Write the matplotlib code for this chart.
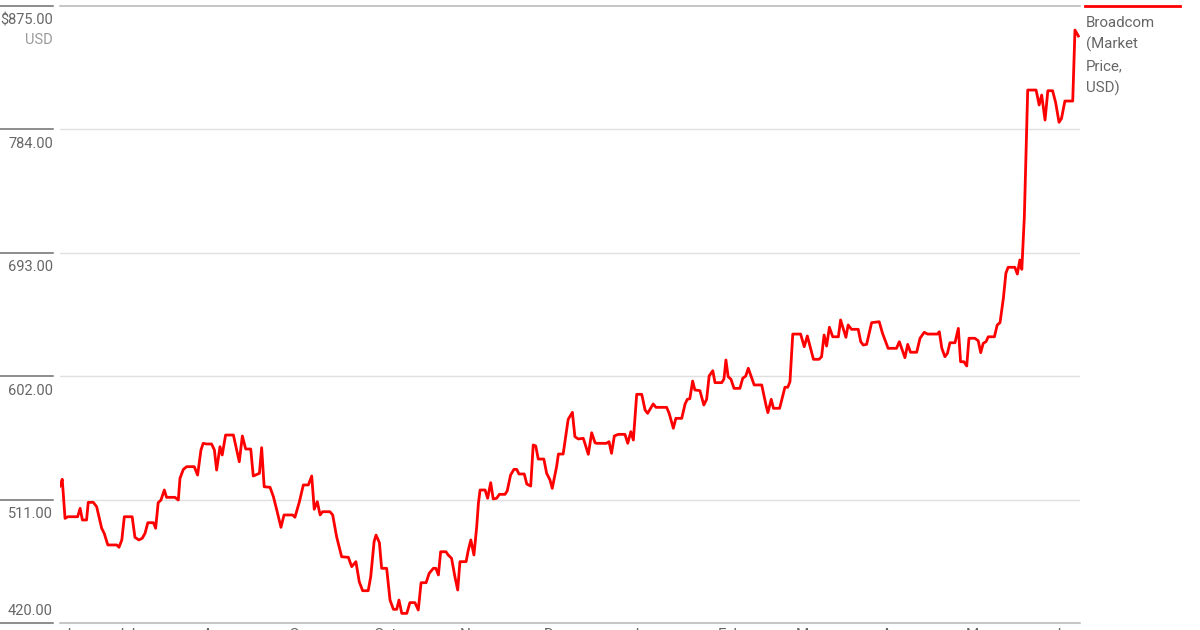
import numpy as np
import pandas as pd
import matplotlib
matplotlib.use("Agg")
import matplotlib.pyplot as plt
import matplotlib.transforms as mtransforms
from matplotlib.lines import Line2D

# Broadcom market price (USD)
# day = days since 2022-06-11
start = pd.Timestamp("2022-06-11")
days = [0.0, 0.8, 1.8, 2.8, 6.3, 7.2, 8.0, 9.5, 10.1, 11.9, 13.1, 14.9, 15.8, 17.1, 20.3, 21.1,
        22.1, 23.0, 25.8, 26.8, 28.2, 29.4, 30.4, 31.4, 33.4, 34.2, 35.1, 36.1, 37.3, 38.1, 41.1,
        42.3, 42.9, 44.1, 45.3, 48.0, 49.2, 50.4, 51.2, 52.4, 54.2, 55.2, 56.0, 57.2, 58.0, 59.2,
        62.0, 64.1, 65.2, 66.4, 68.2, 69.1, 71.3, 72.1, 73.0, 75.1, 76.3, 77.5, 79.0, 80.1, 83.2,
        84.0, 85.6, 87.0, 88.8, 90.0, 90.9, 92.0, 93.0, 93.9, 96.5, 97.5, 98.9, 100.7, 103.1, 104.3,
        105.8, 107.0, 108.2, 110.2, 111.1, 112.3, 113.0, 114.2, 115.0, 116.8, 118.0, 119.2, 120.4,
        121.2, 122.2, 124.0, 125.1, 126.9, 128.1, 129.1, 130.9, 132.0, 133.5, 134.4, 135.3, 136.1,
        138.0, 138.8, 140.0, 141.2, 142.2, 143.0, 145.2, 146.0, 146.9, 148.0, 149.0, 149.6, 150.2,
        152.0, 152.9, 154.0, 154.9, 156.1, 157.1, 159.1, 159.9, 161.1, 162.3, 163.3, 164.1, 166.0,
        166.9, 168.3, 169.2, 170.1, 171.0, 173.0, 174.0, 175.2, 176.0, 177.6, 178.2, 179.9, 181.7,
        183.2, 184.1, 185.3, 187.1, 188.9, 190.1, 191.3, 191.9, 195.4, 196.3, 197.2, 198.2, 199.6,
        202.0, 203.0, 204.1, 205.0, 206.2, 208.0, 209.2, 210.1, 212.1, 213.1, 216.9, 217.8, 219.3,
        220.2, 222.3, 223.5, 224.3, 225.2, 226.2, 227.0, 228.8, 230.2, 231.2, 232.1, 233.4, 234.2,
        236.6, 237.4, 238.1, 238.9, 239.9, 241.0, 243.1, 244.1, 245.2, 246.1, 248.2, 250.9, 252.5,
        253.1, 254.3, 255.1, 257.3, 259.2, 260.2, 261.0, 262.0, 264.8, 266.1, 267.2, 269.4, 271.4,
        272.3, 273.2, 274.1, 275.1, 276.3, 278.3, 279.1, 281.0, 281.8, 283.0, 285.4, 286.3, 287.2,
        288.4, 290.2, 292.9, 294.1, 296.1, 299.1, 300.1, 302.1, 303.1, 304.1, 306.3, 307.5, 309.0,
        310.2, 313.7, 314.4, 315.3, 316.4, 317.3, 318.2, 320.0, 321.2, 322.0, 323.2, 324.2, 325.0,
        327.1, 328.3, 329.2, 330.1, 331.1, 331.9, 334.1, 335.1, 336.1, 337.3, 338.2, 339.0, 341.4,
        342.3, 343.2, 343.9, 344.8, 345.4, 346.0, 349.0, 350.1, 351.0, 352.2, 353.2, 354.9, 356.0,
        357.2, 358.1, 359.3, 362.1, 362.9, 364.1]
prices = [520.9, 525.9, 497.1, 498.3, 498.3, 504.5, 495.9, 495.9, 508.9, 508.9, 505.7, 489.8,
          486.1, 477.5, 477.5, 475.8, 481.2, 498.3, 498.3, 483.1, 481.2, 482.4, 486.1, 493.9,
          493.9, 489.8, 508.6, 510.6, 518.0, 512.6, 512.6, 510.6, 526.6, 533.2, 535.2, 535.2,
          529.0, 547.5, 552.4, 551.9, 551.9, 547.5, 532.7, 549.9, 543.8, 558.5, 558.5, 538.8,
          557.8, 548.2, 548.2, 528.3, 530.3, 549.2, 520.4, 520.0, 513.1, 503.3, 490.5, 499.6,
          499.6, 497.9, 509.4, 521.7, 521.7, 528.3, 503.8, 509.4, 499.6, 502.0, 502.0, 499.6,
          483.6, 468.8, 468.4, 461.5, 465.2, 450.4, 443.8, 443.8, 454.1, 479.9, 484.8, 479.2,
          460.3, 460.3, 436.9, 430.1, 430.1, 436.9, 427.1, 427.1, 435.0, 435.0, 429.6, 449.7,
          449.7, 456.6, 460.3, 460.3, 455.4, 472.5, 472.5, 470.1, 467.7, 454.1, 444.3, 465.2,
          465.2, 473.8, 481.2, 470.1, 491.0, 508.2, 518.0, 518.0, 511.9, 523.4, 511.4, 511.9,
          514.8, 514.8, 517.3, 529.0, 533.2, 533.2, 529.8, 529.8, 522.4, 520.9, 551.2, 550.4,
          540.8, 540.8, 530.3, 525.4, 519.2, 535.7, 544.5, 544.5, 570.1, 575.2, 557.3, 555.6,
          556.1, 544.3, 560.2, 552.8, 552.4, 552.4, 553.6, 545.0, 557.8, 559.0, 559.0, 552.4,
          561.0, 554.8, 588.5, 588.5, 576.9, 574.5, 581.4, 578.9, 578.9, 574.5, 563.5, 570.8,
          570.8, 581.4, 584.8, 585.3, 598.3, 591.7, 591.2, 580.6, 584.8, 602.0, 605.9, 597.1,
          597.1, 599.8, 613.8, 601.5, 599.6, 592.9, 592.9, 600.3, 602.0, 607.7, 595.4, 595.4,
          579.9, 575.0, 584.8, 578.2, 578.2, 593.7, 593.7, 597.8, 632.9, 632.9, 623.6, 631.5,
          614.3, 614.3, 616.2, 632.2, 624.1, 637.9, 630.9, 630.9, 643.3, 630.5, 639.6, 636.4,
          636.4, 627.3, 624.8, 625.3, 641.3, 642.0, 633.4, 622.4, 622.4, 627.3, 615.5, 625.3,
          619.5, 619.5, 629.8, 634.2, 632.9, 632.9, 634.6, 622.4, 616.2, 618.7, 626.5, 626.5,
          637.1, 612.5, 612.5, 609.4, 629.8, 629.8, 628.0, 619.2, 626.1, 627.3, 630.9, 630.9,
          639.6, 641.3, 659.2, 677.7, 682.1, 682.1, 677.1, 687.5, 680.6, 719.4, 766.1, 812.7,
          812.7, 801.7, 809.0, 790.6, 812.2, 812.2, 803.4, 788.9, 791.9, 804.6, 804.6, 856.9,
          852.5]

grid_vals = [420, 511, 602, 693, 784, 875]
grid_labels = ["420.00", "511.00", "602.00", "693.00", "784.00", "$875.00"]
month_dates = ["2022-06-12", "2022-07-01", "2022-08-01", "2022-09-01", "2022-10-01",
               "2022-11-01", "2022-12-01", "2023-01-01", "2023-02-01", "2023-03-01",
               "2023-04-01", "2023-05-01", "2023-06-01"]
month_labels = ["Jun", "Jul", "Aug", "Sep", "Oct", "Nov", "Dec", "Jan", "Feb", "Mar",
                "Apr", "May", "Jun"]

dates = start + pd.to_timedelta(days, unit="D")

plt.rcParams["font.family"] = ["Roboto", "DejaVu Sans"]

W, H = 1200, 630
fig = plt.figure(figsize=(12, 6.3), dpi=100)
ax = fig.add_axes([60 / W, 1 - 623 / H, 1020 / W, (623 - 5.5) / H])

ax.plot(dates, prices, color="#ff0000", lw=2.0, solid_joinstyle="round")

ax.set_ylim(420, 875)
ax.set_xlim(start, start + pd.Timedelta(days=364.7))

for s in ax.spines.values():
    s.set_visible(False)
ax.set_yticks([])

# gridlines
for v in grid_vals:
    if v in (420, 875):
        ax.axhline(v, color="#b5b5b5", lw=1.1, clip_on=False, zorder=0)
    else:
        ax.axhline(v, color="#e0e0e0", lw=1.0, zorder=0)

# short dark ticks and labels on the left
trans = mtransforms.blended_transform_factory(ax.transAxes, ax.transData)
x0 = -60 / 1020
x1 = -7 / 1020
for v, lab in zip(grid_vals, grid_labels):
    ax.plot([x0, x1], [v, v], transform=trans, color="#6e6e6e", lw=1.1, clip_on=False)
    if v == 420:
        ax.annotate(lab, xy=(x1, v), xycoords=trans, xytext=(0, 3.5),
                    textcoords="offset points", ha="right", va="bottom",
                    fontsize=10.5, color="#666666")
    else:
        ax.annotate(lab, xy=(x1, v), xycoords=trans, xytext=(0, -5.5),
                    textcoords="offset points", ha="right", va="top",
                    fontsize=10.5, color="#666666")
ax.annotate("USD", xy=(x1, 875), xycoords=trans, xytext=(0, -20),
            textcoords="offset points", ha="right", va="top",
            fontsize=10.5, color="#9a9a9a")

# month ticks (cut off at the bottom edge, like the original)
ax.set_xticks(pd.to_datetime(month_dates))
ax.set_xticklabels(month_labels, ha="left", fontsize=11, color="#666666")
ax.tick_params(axis="x", length=0, pad=3.5)

# legend on the right
fig.add_artist(Line2D([1085 / W, 1180 / W], [1 - 6 / H, 1 - 6 / H],
                      color="#ff0000", lw=2.0, transform=fig.transFigure))
fig.text(1086 / W, 1 - 16 / H, "Broadcom\n(Market\nPrice,\nUSD)", ha="left", va="top",
         fontsize=10.8, color="#666666", linespacing=1.6)

fig.savefig("out.png", dpi=100)
